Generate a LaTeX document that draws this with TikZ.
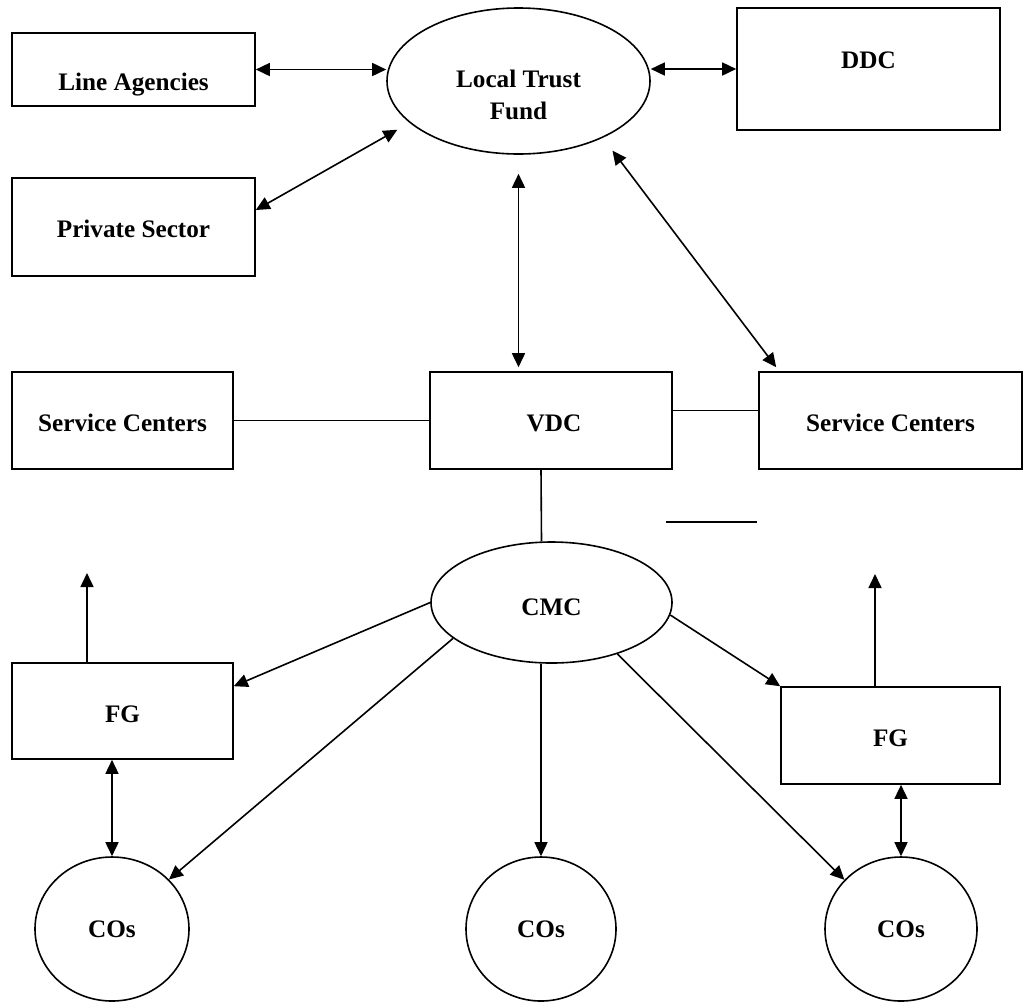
\documentclass[tikz,border=0pt]{standalone}
\usepackage{fontspec}
\setmainfont{Liberation Serif}
\usepackage{tikz}
\usetikzlibrary{arrows.meta}
\usetikzlibrary{shapes.geometric}

\begin{document}
\begin{tikzpicture}[
x=0.5pt,y=-0.5pt,
every node/.style={font=\fontsize{12.6}{16}\selectfont\bfseries},
Size/.style 2 args={minimum width=#1*0.5pt,minimum height=#2*0.5pt,inner sep=0pt},
Box/.style={draw=black,line width=0.8pt,rectangle},
Oval/.style={draw=black,line width=0.8pt,ellipse},
TextLbl/.style={draw=none,align=center},
Link/.style={draw=black,line width=0.8pt},
OneWay/.style={Link,-{Triangle[length=7pt,width=6.5pt]}},
TwoWay/.style={Link,{Triangle[length=7pt,width=6.5pt]}-{Triangle[length=7pt,width=6.5pt]}}
]
\useasboundingbox (0,0) rectangle (1026,1002);

\node[Box,Size={243}{73},label={[TextLbl,name=lat,yshift=-7.5pt]center:Line Agencies}] (la) at (133.5,69.5) {};
\node[Box,Size={243}{98},label={[TextLbl,name=pst,yshift=-1pt]center:Private Sector}] (ps) at (133.5,227) {};
\node[Oval,Size={263}{146},label={[TextLbl,name=ltft,yshift=-7pt]center:Local Trust\\Fund}] (ltf) at (518.5,81) {};
\node[Box,Size={263}{122},label={[TextLbl,name=ddct,yshift=4.5pt]center:DDC}] (ddc) at (868.5,69) {};

\node[Box,Size={221}{97},label={[TextLbl,name=sclt,yshift=-1.25pt]center:Service Centers}] (scl) at (122.5,420.5) {};
\node[Box,Size={242}{97},label={[TextLbl,name=vdct,xshift=1.5pt,yshift=-1.25pt]center:VDC}] (vdc) at (551,420.5) {};
\node[Box,Size={263}{97},label={[TextLbl,name=scrt,yshift=-1.25pt]center:Service Centers}] (scr) at (890.5,420.5) {};

\node[Oval,Size={241}{121},label={[TextLbl,name=cmct,yshift=-2.25pt]center:CMC}] (cmc) at (551.5,602.5) {};
\node[Box,Size={221}{96},label={[TextLbl,name=fglt,yshift=-1.5pt]center:FG}] (fgl) at (122.5,711) {};
\node[Box,Size={219}{97},label={[TextLbl,name=fgrt,yshift=-1.25pt]center:FG}] (fgr) at (890.5,735.5) {};

\node[Oval,Size={154}{144}] (col) at (112,929) {COs};
\node[Oval,Size={150}{144}] (com) at (541,929) {COs};
\node[Oval,Size={152}{144}] (cor) at (901,929) {COs};

\coordinate (upl) at (87,573);
\coordinate (upr) at (875,574);
\coordinate (sa) at (666,522);
\coordinate (sb) at (757,522);

\draw[TwoWay] (la.east) -- (la.east -| ltf.west);
\draw[TwoWay] (ltf.east |- ddc.west) -- (ddc.west);
\draw[TwoWay,shorten <=7pt] (ltf.201) -- ([yshift=8.5pt]ps.east);
\draw[TwoWay,shorten <=9.5pt,shorten >=2pt] (ltf.south) -- (ltf.south |- vdc.north);
\draw[TwoWay,shorten <=8pt] (ltf.-34) -- ([xshift=9pt,yshift=2pt]scr.north west);

\draw[Link] (scl.east) -- (vdc.west);
\draw[Link] ([yshift=5pt]vdc.east) -- ([yshift=5pt]scr.west);
\draw[Link] (sa) -- (sb);
\draw[Link] ([xshift=-5pt]vdc.south) -- ([xshift=-5pt]cmc.north);

\draw[OneWay] (cmc.west) -- ([yshift=-12pt]fgl.north east);
\draw[OneWay] (cmc.-6) -- (fgr.north west);
\draw[OneWay] (cmc.200) -- (col.41);
\draw[OneWay] (com.north |- cmc.south) -- (com.north);
\draw[OneWay] (cmc.-38) -- (cor.139);

\draw[OneWay] (upl |- fgl.north) -- (upl);
\draw[OneWay] (upr |- fgr.north) -- (upr);
\draw[TwoWay] (col.north |- fgl.south) -- (col.north);
\draw[TwoWay] (cor.north |- fgr.south) -- (cor.north);

\end{tikzpicture}
\end{document}
